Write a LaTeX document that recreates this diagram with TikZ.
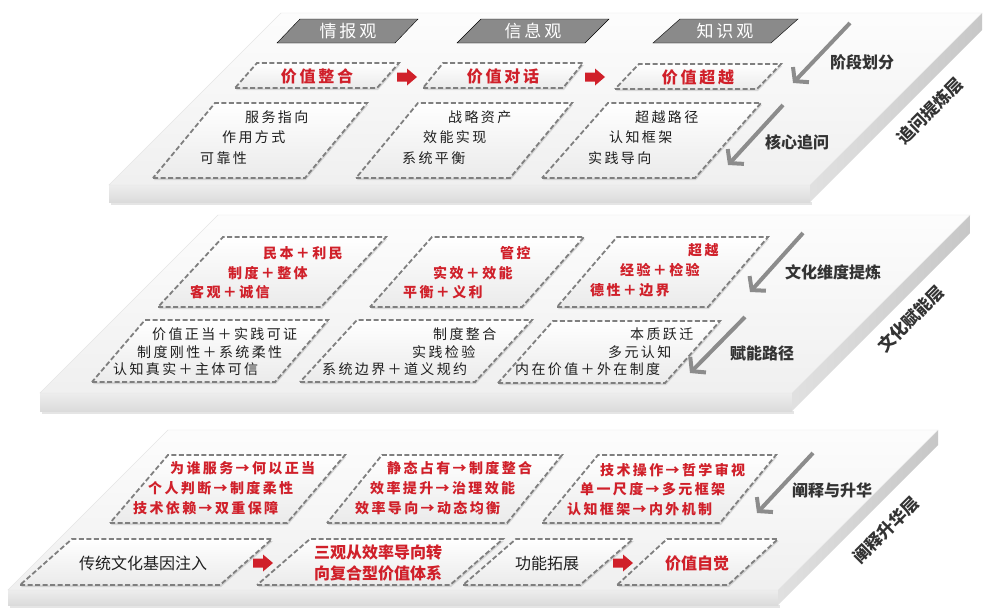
\documentclass[tikz,border=0pt]{standalone}
\usepackage{fontspec}
\setmainfont{Noto Sans CJK SC}
\newfontfamily\spaced[LetterSpace=17]{Noto Sans CJK SC}
\usetikzlibrary{calc,shadows,arrows.meta}
\definecolor{vred}{HTML}{D0202A}
\definecolor{arrgray}{HTML}{8C8C8C}
\definecolor{lblgray}{HTML}{333333}
\definecolor{dashgray}{HTML}{7F7F7F}
\definecolor{bangray}{HTML}{8A8A8A}
% slab: x, y (front top-left), width, depth, thickness
\def\slab#1#2#3#4#5{%
  \fill[black!20, opacity=.5] ({#1+2},{#2+#5}) rectangle ({#1+#3+2},{#2+#5+3});
  \shade[top color=black!7, bottom color=black!14] (#1,#2) rectangle ({#1+#3},{#2+#5});
  \shade[left color=black!12, right color=black!22] ({#1+#3},#2) -- ++(#4,-#4) -- ++(0,#5) -- ++(-#4,#4) -- cycle;
  \shade[top color=black!1, bottom color=black!6, draw=black!10] (#1,#2) -- ++(#3,0) -- ++(#4,-#4) -- ++(-#3,0) -- cycle;
}
\def\pgram[#1](#2)(#3:#4:#5){\draw[#1] (#2) -- ++(#3,0) -- ++(#5,-#4) -- ++(-#3,0) -- cycle;}
\def\redarr(#1){\fill[vred] (#1) ++(0,-4.5) -- ++(10,0) -- ++(0,-4) -- ++(10,8.5) -- ++(-10,8.5) -- ++(0,-4) -- ++(-10,0) -- cycle;}

\begin{document}
\begin{tikzpicture}[x=1pt, y=-1pt,
    dbox/.style={draw=dashgray, line width=1.8pt, dash pattern=on 5pt off 2.5pt,
      top color=white, bottom color=black!8,
      drop shadow={shadow xshift=1pt, shadow yshift=-2pt, opacity=.25}},
    banner/.style={fill=bangray},
    txt/.style={font=\spaced\fontsize{14}{16}\selectfont, text=black!88, inner sep=0pt, anchor=west},
    rtxt/.style={txt, font=\spaced\bfseries\fontsize{14}{16}\selectfont, text=vred},
    hdr/.style={font=\spaced\bfseries\fontsize{16}{18}\selectfont, text=vred, inner sep=0pt},
    ban/.style={font=\spaced\fontsize{17}{20}\selectfont, text=white, inner sep=0pt},
    sidelbl/.style={font=\bfseries\fontsize{16}{18}\selectfont, text=lblgray, inner sep=0pt},
    layerlbl/.style={sidelbl, font=\bfseries\fontsize{17}{19}\selectfont, rotate=45},
    blktxt/.style={font=\fontsize{16}{18}\selectfont, text=black!88, inner sep=0pt},
    rblk/.style={font=\bfseries\fontsize{16}{21}\selectfont, text=vred, inner sep=0pt, align=center},
    garr/.style={arrgray, line width=4pt, -{Straight Barb[length=9pt,width=22pt]}}]
		%%%%% START %%%%%
		\fill[white] (0,0) rectangle (986,608);
		\useasboundingbox (0,0) rectangle (986,608);
		
		\slab{109}{185}{701}{172}{17}
		\slab{40}{393}{752}{178}{18}
		\slab{8}{590}{770}{160}{15}
		
		%%%%% top layer %%%%%
		\pgram[banner](277,43)(118:24:23)
		\node[ban] (vq) at (348,31) {情报观};
		\pgram[banner](457,43)(128:24:24)
		\node[ban] (vx) at (533,31) {信息观};
		\pgram[banner](653,43)(118:24:27)
		\node[ban] (vz) at (725,31) {知识观};
		
		\pgram[dbox](235,88)(142:25:22)
		\node[hdr] (va1) at (317,76) {价值整合};
		\coordinate (ra1) at (397,77);
		\redarr(ra1)
		\pgram[dbox](423,88)(140:25:20)
		\node[hdr] (va2) at (503,76) {价值对话};
		\coordinate (ra2) at (585,77);
		\redarr(ra2)
		\pgram[dbox](615,89)(142:25:24)
		\node[hdr] (va3) at (698,77) {价值超越};
		
		\pgram[dbox](153,178)(152:75:62)
		\node[txt] (q1a) at (245,117) {服务指向};
		\node[txt] (q1b) at (222,137) {作用方式};
		\node[txt] (q1c) at (200,158) {可靠性};
		\pgram[dbox](356,178)(154:75:62)
		\node[txt] (q2a) at (448,117) {战略资产};
		\node[txt] (q2b) at (423,137) {效能实现};
		\node[txt] (q2c) at (402,158) {系统平衡};
		\pgram[dbox](542,178)(153:75:66)
		\node[txt] (q3a) at (635,117) {超越路径};
		\node[txt] (q3b) at (609,137) {认知框架};
		\node[txt] (q3c) at (588,158) {实践导向};
		
		\coordinate (g1s) at (850,23);
		\coordinate (g1e) at (793,83);
		\draw[garr] (g1s) -- (g1e);
		\node[sidelbl] (l1) at (862,62) {阶段划分};
		\coordinate (g2s) at (783,105);
		\coordinate (g2e) at (728,165);
		\draw[garr] (g2s) -- (g2e);
		\node[sidelbl] (l2) at (797,142) {核心追问};
		\node[layerlbl] (ly1) at (930,111) {追问提炼层};
		
		%%%%% middle layer %%%%%
		\pgram[dbox](158,307)(163:70:65)
		\node[rtxt] (c1a) at (263,253) {民本＋利民};
		\node[rtxt] (c1b) at (228,273) {制度＋整体};
		\node[rtxt] (c1c) at (190,292) {客观＋诚信};
		\pgram[dbox](370,307)(152:70:62)
		\node[rtxt] (c2a) at (500,253) {管控};
		\node[rtxt] (c2b) at (433,273) {实效＋效能};
		\node[rtxt] (c2c) at (403,292) {平衡＋义利};
		\pgram[dbox](557,307)(151:70:60)
		\node[rtxt] (c3a) at (688,250) {超越};
		\node[rtxt] (c3b) at (620,270) {经验＋检验};
		\node[rtxt] (c3c) at (590,290) {德性＋边界};
		
		\pgram[dbox](92,382)(183:62:53)
		\node[txt] (p1a) at (152,334) {价值正当＋实践可证};
		\node[txt] (p1b) at (137,352) {制度刚性＋系统柔性};
		\node[txt] (p1c) at (113,369) {认知真实＋主体可信};
		\pgram[dbox](300,382)(175:62:57)
		\node[txt] (p2a) at (433,334) {制度整合};
		\node[txt] (p2b) at (412,352) {实践检验};
		\node[txt] (p2c) at (322,369) {系统边界＋道义规约};
		\pgram[dbox](498,383)(167:62:55)
		\node[txt] (p3a) at (630,334) {本质跃迁};
		\node[txt] (p3b) at (608,352) {多元认知};
		\node[txt] (p3c) at (515,369) {内在价值＋外在制度};
		
		\coordinate (g3s) at (803,233);
		\coordinate (g3e) at (750,292);
		\draw[garr] (g3s) -- (g3e);
		\node[sidelbl] (l3) at (833,272) {文化维度提炼};
		\coordinate (g4s) at (745,317);
		\coordinate (g4e) at (690,373);
		\draw[garr] (g4s) -- (g4e);
		\node[sidelbl] (l4) at (762,353) {赋能路径};
		\node[layerlbl] (ly2) at (911,319) {文化赋能层};
		
		%%%%% bottom layer %%%%%
		\pgram[dbox](110,523)(177:68:58)
		\node[rtxt] (e1a) at (170,468) {为谁服务→何以正当};
		\node[rtxt] (e1b) at (148,488) {个人判断→制度柔性};
		\node[rtxt] (e1c) at (133,508) {技术依赖→双重保障};
		\pgram[dbox](327,523)(180:68:55)
		\node[rtxt] (e2a) at (387,468) {静态占有→制度整合};
		\node[rtxt] (e2b) at (370,488) {效率提升→治理效能};
		\node[rtxt] (e2c) at (355,508) {效率导向→动态均衡};
		\pgram[dbox](542,523)(178:68:56)
		\node[rtxt] (e3a) at (600,470) {技术操作→哲学审视};
		\node[rtxt] (e3b) at (580,489) {单一尺度→多元框架};
		\node[rtxt] (e3c) at (567,509) {认知框架→内外机制};
		
		\pgram[dbox](20,585)(200:46:52)
		\node[blktxt] (f1) at (143,563) {传统文化基因注入};
		\coordinate (ra3) at (253,563);
		\redarr(ra3)
		\pgram[dbox](257,585)(193:46:53)
		\node[rblk] (f2) at (378,563) {三观从效率导向转\\向复合型价值体系};
		\pgram[dbox](463,585)(117:46:53)
		\node[blktxt] (f3) at (547,563) {功能拓展};
		\coordinate (ra4) at (613,563);
		\redarr(ra4)
		\pgram[dbox](617,585)(111:46:50)
		\node[rblk] (f4) at (697,563) {价值自觉};
		
		\coordinate (g5s) at (813,453);
		\coordinate (g5e) at (757,513);
		\draw[garr] (g5s) -- (g5e);
		\node[sidelbl] (l5) at (832,490) {阐释与升华};
		\node[layerlbl] (ly3) at (886,530) {阐释升华层};
		%%%%% END %%%%%
\end{tikzpicture}
\end{document}
